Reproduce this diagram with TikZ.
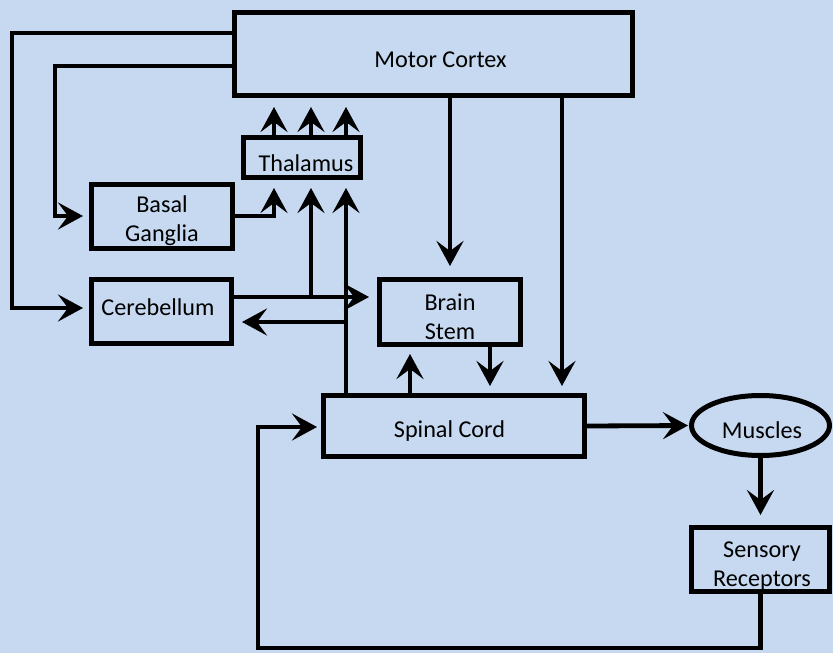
\documentclass[tikz,border=0pt]{standalone}
\usepackage{fontspec}
\setmainfont{Carlito}
\usetikzlibrary{arrows.meta,shapes.geometric}
\definecolor{bgblue}{RGB}{198,217,240}
\begin{document}
\begin{tikzpicture}[x=1pt,y=-1pt,
  box/.style={draw=black, line width=5pt, inner sep=0pt},
  lab/.style={inner sep=0pt, align=center, font=\fontsize{24.2}{29}\selectfont},
  conn/.style={line width=4.8pt, -{Stealth[length=25pt,width=27pt,inset=10pt]}}]
\fill[bgblue] (0,0) rectangle (833,653);
\useasboundingbox (0,0) rectangle (833,653);

% nodes
\node[box, minimum width=398pt, minimum height=83pt,
  label={[lab, xshift=7pt, yshift=-6pt]center:Motor Cortex}] (motor) at (433.5,54) {};
\node[box, minimum width=117pt, minimum height=40pt,
  label={[lab, xshift=4pt, yshift=-5.5pt]center:Thalamus}] (thal) at (302,157.5) {};
\node[box, minimum width=141pt, minimum height=64pt,
  label={[lab, yshift=-4pt]center:Basal\\Ganglia}] (basal) at (162,216.5) {};
\node[box, minimum width=140pt, minimum height=64pt,
  label={[lab, xshift=-3.5pt, yshift=4pt]center:Cerebellum}] (cereb) at (161.5,311.5) {};
\node[box, minimum width=141pt, minimum height=65pt,
  label={[lab, yshift=-5pt]center:Brain\\Stem}] (brain) at (450,312) {};
\node[box, minimum width=261pt, minimum height=61pt,
  label={[lab, xshift=-4.5pt, yshift=-5.5pt]center:Spinal Cord}] (spinal) at (454,426) {};
\node[box, ellipse, minimum width=138pt, minimum height=60pt,
  label={[lab, xshift=1.5pt, yshift=-5pt]center:Muscles}] (muscles) at (760.5,425.5) {};
\node[box, minimum width=138pt, minimum height=64pt,
  label={[lab, xshift=1.5pt, yshift=-7pt]center:Sensory\\Receptors}] (sensory) at (760.5,559.5) {};

% helper coordinates
\coordinate (hx12) at (12,0);
\coordinate (hx55) at (55,0);
\coordinate (hx258) at (258,0);
\coordinate (hx274) at (274,0);
\coordinate (hx311) at (311,0);
\coordinate (hx346) at (346,0);
\coordinate (hx410) at (410,0);
\coordinate (hx450) at (450,0);
\coordinate (hx490) at (490,0);
\coordinate (hx562) at (562,0);
\coordinate (hy33) at (0,33);
\coordinate (hy66) at (0,66);
\coordinate (hy216) at (0,216);
\coordinate (hy297) at (0,297);
\coordinate (hy308) at (0,308);
\coordinate (hy322) at (0,322);
\coordinate (hy427) at (0,427);
\coordinate (hy648) at (0,648);

% thalamus -> motor cortex
\foreach \c in {hx274,hx311,hx346}
  \draw[conn, shorten >=9pt] (thal.north -| \c) -- (motor.south -| \c);

% motor cortex -> cerebellum / basal ganglia
\draw[conn, shorten >=6pt] (motor.west |- hy33) -| (hx12 |- hy308) -- (cereb.west |- hy308);
\draw[conn, shorten >=6pt] (motor.west |- hy66) -| (hx55 |- hy216) -- (basal.west |- hy216);

% basal ganglia -> thalamus
\draw[conn, shorten >=8pt] (basal.east |- hy216) -| (thal.south -| hx274);

% cerebellum -> brain stem, branch to thalamus
\draw[conn, shorten >=8pt] (cereb.east |- hy297) -- (brain.west |- hy297);
\draw[conn, shorten >=8pt] (hx311 |- hy297) -- (thal.south -| hx311);

% spinal cord -> thalamus, and -> cerebellum
\draw[conn, shorten >=8pt] (spinal.north -| hx346) -- (thal.south -| hx346);
\draw[conn, shorten >=8pt] (hx346 |- hy322) -- (cereb.east |- hy322);

% motor cortex -> brain stem / spinal cord
\draw[conn, shorten >=11pt] (motor.south -| hx450) -- (brain.north -| hx450);
\draw[conn, shorten >=7pt] (motor.south -| hx562) -- (spinal.north -| hx562);

% brain stem <-> spinal cord
\draw[conn, shorten >=7pt] (spinal.north -| hx410) -- (brain.south -| hx410);
\draw[conn, shorten >=7pt] (brain.south -| hx490) -- (spinal.north -| hx490);

% spinal cord -> muscles -> sensory receptors
\draw[conn, shorten >=1pt] (spinal.east) -- (muscles.west);
\draw[conn, shorten >=10pt] (muscles.south) -- (sensory.north);

% feedback loop
\draw[conn, shorten >=4pt] (sensory.south) -- (sensory.south |- hy648) -| (hx258 |- hy427) -- (spinal.west |- hy427);
\end{tikzpicture}
\end{document}
